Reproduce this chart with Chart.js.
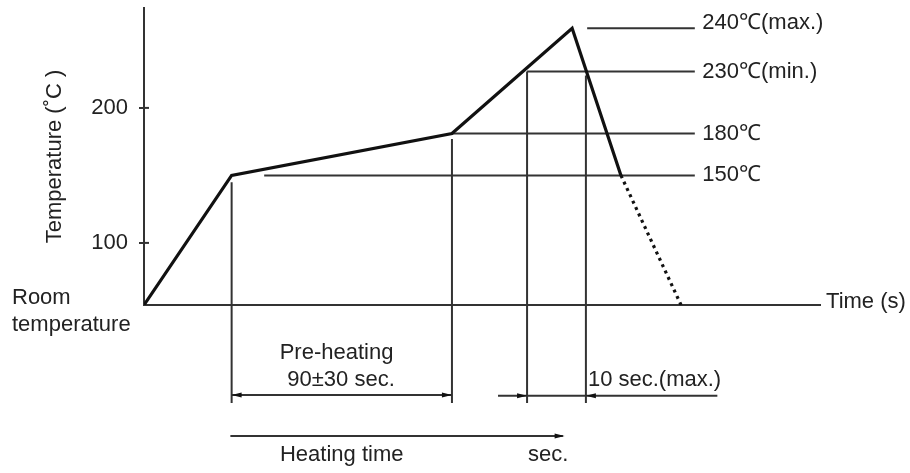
<!DOCTYPE html>
<html>
<head>
<meta charset="utf-8">
<script src="https://cdn.jsdelivr.net/npm/chart.js@4.4.1/dist/chart.umd.min.js"></script>
<style>
  html, body { margin: 0; padding: 0; background: #fff; }
  #wrap { position: relative; width: 910px; height: 473px; }
</style>
</head>
<body>
<div id="wrap"><canvas id="chart"></canvas></div>
<script>
// reflow profile, values (axis is not to scale above 200)
const ROOM = 54;
const profileTime = [0, 35, 123, 171, 190.5];
const profileTemp = [ROOM, 150, 181, 259, 150];
const coolTime = [190.5, 214.5];
const coolTemp = [150, ROOM];

const levelLabels = ["240\u2103(max.)", "230\u2103(min.)", "180\u2103", "150\u2103"];
const levelTemp = [259, 227, 181, 150];
const levelStart = [177, 153, 123, 48];
const levelEnd = 220;

const guideTime = [35, 123, 153, 176.5];
const guideTop = [145, 177, 227, 224];
const guideBottom = -18.5;

const yTicks = [100, 200];

const FONT = "'Liberation Sans', Arial, sans-serif";
const INK = "#222";
const LINE = "#333";

const pts = (xs, ys) => xs.map((x, i) => ({ x: x, y: ys[i] }));

const datasets = [
  { data: pts(profileTime, profileTemp), borderColor: "#111", borderWidth: 3.2 },
  { data: pts(coolTime, coolTemp), borderColor: "#111", borderWidth: 3.2, borderDash: [3, 4] },
];
levelTemp.forEach((v, i) => {
  datasets.push({ data: pts([levelStart[i], levelEnd], [v, v]), borderColor: LINE, borderWidth: 2 });
});
guideTime.forEach((t, i) => {
  datasets.push({ data: pts([t, t], [guideTop[i], guideBottom]), borderColor: LINE, borderWidth: 2, clip: false });
});

function arrowHead(ctx, x, y, dir) {
  ctx.beginPath();
  ctx.moveTo(x, y);
  ctx.lineTo(x - dir * 10, y - 2.5);
  ctx.lineTo(x - dir * 10, y + 2.5);
  ctx.closePath();
  ctx.fill();
}

const notes = {
  id: "notes",
  afterDraw(chart) {
    const { ctx, chartArea } = chart;
    const xs = chart.scales.x, ys = chart.scales.y;
    const X = v => xs.getPixelForValue(v);
    const Y = v => ys.getPixelForValue(v);
    ctx.save();
    ctx.strokeStyle = LINE;
    ctx.fillStyle = "#111";

    // inner half of the y ticks
    ctx.lineWidth = 2;
    yTicks.forEach(v => {
      ctx.beginPath();
      ctx.moveTo(chartArea.left, Y(v));
      ctx.lineTo(chartArea.left + 5, Y(v));
      ctx.stroke();
    });

    // pre-heating dimension
    let y = Y(-12.6);
    ctx.beginPath(); ctx.moveTo(X(35), y); ctx.lineTo(X(123), y); ctx.stroke();
    arrowHead(ctx, X(35), y, -1);
    arrowHead(ctx, X(123), y, 1);

    // 10 sec dimension
    y = Y(-13.3);
    ctx.beginPath(); ctx.moveTo(X(141.4), y); ctx.lineTo(X(229), y); ctx.stroke();
    arrowHead(ctx, X(153), y, 1);
    arrowHead(ctx, X(176.5), y, -1);

    // heating time arrow
    y = Y(-43);
    ctx.beginPath(); ctx.moveTo(X(34.5), y); ctx.lineTo(X(167.3), y); ctx.stroke();
    arrowHead(ctx, X(168), y, 1);

    ctx.fillStyle = INK;
    ctx.font = "22px " + FONT;
    ctx.textBaseline = "middle";
    ctx.textAlign = "left";
    levelLabels.forEach((t, i) => {
      ctx.fillText(t, X(223), Y(levelTemp[i]) - (i === 0 ? 5 : 0));
    });
    ctx.fillText("Time (s)", X(272.4), Y(ROOM) - 3);
    ctx.fillText("10 sec.(max.)", X(177.3), Y(-1.5));
    ctx.fillText("Heating time", X(54.3), Y(-57));
    ctx.fillText("sec.", X(153.4), Y(-57));
    ctx.fillText("Room", chartArea.left - 132, Y(ROOM) - 7);
    ctx.fillText("temperature", chartArea.left - 132, Y(ROOM) + 20);
    ctx.textAlign = "center";
    ctx.fillText("Pre-heating", X(76.9), Y(18.5));
    ctx.fillText("90\u00b130 sec.", X(78.7), Y(-1.5));
    ctx.restore();
  },
};

new Chart(document.getElementById("chart"), {
  type: "line",
  data: { datasets: datasets },
  options: {
    responsive: true,
    maintainAspectRatio: false,
    animation: false,
    layout: { padding: { top: 8, right: 90, left: 0, bottom: 0 } },
    elements: {
      point: { radius: 0 },
      line: { tension: 0, borderCapStyle: "butt", borderJoinStyle: "miter" },
    },
    plugins: { legend: { display: false }, tooltip: { enabled: false } },
    scales: {
      x: {
        type: "linear",
        min: 0,
        max: 270,
        ticks: { display: false },
        grid: { display: false },
        border: { display: true, color: LINE, width: 2 },
        afterFit(s) { s.height = 168; s.paddingLeft = 0; s.paddingRight = 0; },
      },
      y: {
        type: "linear",
        min: ROOM,
        max: 274,
        afterBuildTicks(s) { s.ticks = yTicks.map(v => ({ value: v })); },
        ticks: { color: INK, font: { size: 22, family: FONT }, padding: 11 },
        grid: { drawOnChartArea: false, tickLength: 5, color: "#333", lineWidth: 2 },
        border: { display: true, color: "#333", width: 2 },
        title: {
          display: true,
          text: "Temperature (\u02daC )",
          color: INK,
          font: { size: 22, family: FONT },
          padding: { top: 42, bottom: 0 },
        },
        afterFit(s) { s.width = 144; s.paddingTop = 0; s.paddingBottom = 0; },
      },
    },
  },
  plugins: [notes],
});
</script>
</body>
</html>
